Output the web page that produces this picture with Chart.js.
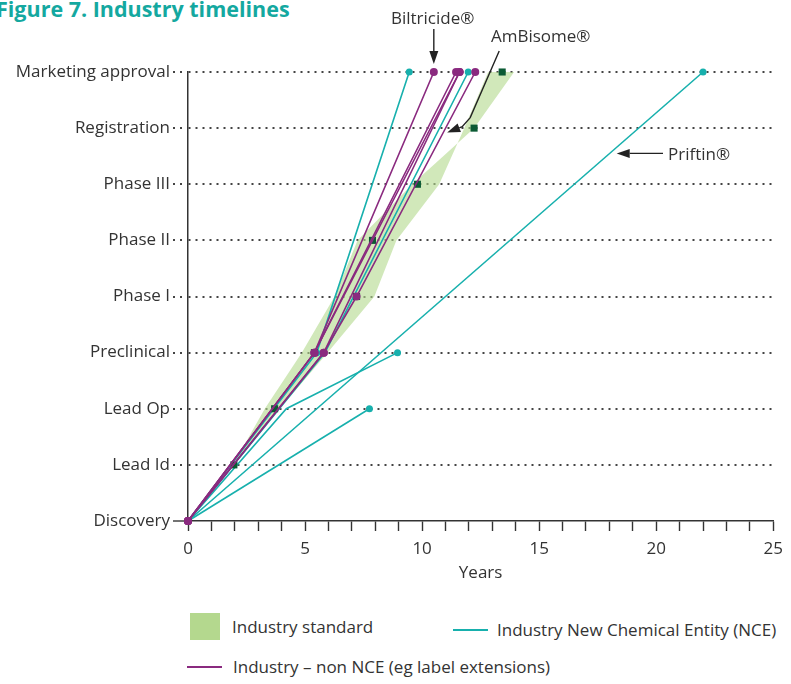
<!DOCTYPE html>
<html lang="en">
<head>
    <meta charset="UTF-8">
    <title>Figure 7. Industry timelines</title>
    <style>
        body {
            margin: 0;
            padding: 0;
            width: 791px;
            height: 684px;
            overflow: hidden;
            background: #ffffff;
            font-family: 'Open Sans', sans-serif;
            color: #333333;
            position: relative;
        }

        .title {
            position: absolute;
            left: -4px;
            top: -6px;
            font-size: 21.5px;
            font-weight: bold;
            color: #14a8a0;
            white-space: nowrap;
        }

        .note, .legend-text {
            position: absolute;
            font-size: 17px;
            line-height: 20px;
            white-space: nowrap;
        }

        #chartBox {
            position: absolute;
            left: 0;
            top: 0;
            width: 791px;
            height: 590px;
        }

        .swatch, .legend-line {
            position: absolute;
        }
    </style>
</head>
<body>
    <div class="title">Figure 7. Industry timelines</div>

    <div id="chartBox"><canvas id="timelineChart"></canvas></div>

    <div class="note" style="left:391px; top:8px;">Biltricide®</div>
    <div class="note" style="left:491px; top:26px;">AmBisome®</div>
    <div class="note" style="left:668px; top:144px;">Priftin®</div>

    <div class="swatch" style="left:190px; top:613px; width:30px; height:27px; background:#b4d88e;"></div>
    <div class="legend-text" style="left:232px; top:617px;">Industry standard</div>
    <div class="legend-line" style="left:453px; top:629px; width:35px; height:2px; background:#17b0ad;"></div>
    <div class="legend-text" style="left:497px; top:620px;">Industry New Chemical Entity (NCE)</div>
    <div class="legend-line" style="left:187px; top:666px; width:35px; height:2px; background:#8a2a7f;"></div>
    <div class="legend-text" style="left:233px; top:657px;">Industry – non NCE (eg label extensions)</div>

    <script src="https://cdn.jsdelivr.net/npm/chart.js"></script>
    <script>
        // stages on the y axis, bottom to top
        const stages = ['Discovery', 'Lead Id', 'Lead Op', 'Preclinical', 'Phase I', 'Phase II', 'Phase III', 'Registration', 'Marketing approval'];

        // industry standard band: [years, stage]
        const standardLow = [[1.92, 1], [3.28, 2], [4.86, 3], [6.26, 4], [7.24, 5], [9.58, 6], [12.22, 7], [13.93, 8]];
        const standardHigh = [[1.92, 1], [3.92, 2], [5.96, 3], [7.96, 4], [8.9, 5], [10.73, 6], [11.8, 7], [12.82, 8]];
        const standardMedian = [[1.96, 1], [3.7, 2], [5.4, 3], [7.2, 4], [7.88, 5], [9.8, 6], [12.22, 7], [13.42, 8]];

        // industry NCE timelines (teal)
        const nce1 = [[0, 0], [5.5, 3], [9.45, 8]];
        const nce2 = [[0, 0], [5.85, 3], [11.97, 8]];
        const nce3 = [[0, 0], [4.2, 2], [8.95, 3]];
        const nce4 = [[0, 0], [7.75, 2]];
        const priftin = [[0, 0], [22.0, 8]];

        // industry non NCE timelines (purple)
        const biltricide = [[0, 0], [5.4, 3], [10.5, 8]];
        const nonNce2 = [[0, 0], [5.4, 3], [11.45, 8]];
        const nonNce3 = [[0, 0], [5.4, 3], [11.6, 8]];
        const nonNce4 = [[0, 0], [5.8, 3], [11.6, 8]];
        const ambisome = [[0, 0], [5.8, 3], [7.2, 4], [12.27, 8]];

        const teal = '#17b0ad';
        const purple = '#8a2a7f';
        const bandColor = 'rgba(178, 216, 140, 0.6)';
        const darkGreen = '#0b5a34';

        function toXY(points) {
            return points.map(p => ({ x: p[0], y: p[1] }));
        }

        function lineSet(points, color, radii, order) {
            return {
                data: toXY(points),
                showLine: true,
                borderColor: color,
                backgroundColor: color,
                borderWidth: 1.6,
                pointRadius: radii,
                pointBorderWidth: 0,
                pointHoverRadius: radii,
                clip: false,
                order: order
            };
        }

        // polygon: up the low edge, back down the high edge
        const bandPolygon = standardLow.concat(standardHigh.slice().reverse());

        const datasets = [
            lineSet(biltricide, purple, [4, 4, 4], 0),
            lineSet(nonNce2, purple, [4, 4, 4], 0),
            lineSet(nonNce3, purple, [4, 4, 4], 0),
            lineSet(nonNce4, purple, [4, 4, 4], 0),
            lineSet(ambisome, purple, [4, 4, 4, 4], 0),
            {
                data: toXY(standardMedian),
                pointStyle: 'rect',
                pointRadius: 5,
                backgroundColor: darkGreen,
                borderColor: darkGreen,
                pointBorderWidth: 0,
                clip: false,
                order: 1
            },
            lineSet(nce1, teal, [3.5, 3.5, 3.5], 2),
            lineSet(nce2, teal, [3.5, 0, 3.5], 2),
            lineSet(nce3, teal, [3.5, 0, 3.5], 2),
            lineSet(nce4, teal, [3.5, 3.5], 2),
            lineSet(priftin, teal, [3.5, 3.5], 2),
            {
                data: toXY(bandPolygon),
                showLine: true,
                fill: 'shape',
                borderWidth: 0,
                borderColor: 'rgba(0,0,0,0)',
                backgroundColor: bandColor,
                pointRadius: 0,
                order: 10
            }
        ];

        function drawArrow(ctx, pts) {
            const n = pts.length;
            const tip = pts[n - 1], prev = pts[n - 2];
            const ang = Math.atan2(tip[1] - prev[1], tip[0] - prev[0]);
            const len = 13, half = 4.5;
            const bx = tip[0] - len * Math.cos(ang), by = tip[1] - len * Math.sin(ang);
            ctx.save();
            ctx.strokeStyle = '#222';
            ctx.fillStyle = '#222';
            ctx.lineWidth = 1.4;
            ctx.beginPath();
            ctx.moveTo(pts[0][0], pts[0][1]);
            for (let i = 1; i < n - 1; i++) ctx.lineTo(pts[i][0], pts[i][1]);
            ctx.lineTo(bx, by);
            ctx.stroke();
            ctx.beginPath();
            ctx.moveTo(tip[0], tip[1]);
            ctx.lineTo(bx - half * Math.sin(ang), by + half * Math.cos(ang));
            ctx.lineTo(bx + half * Math.sin(ang), by - half * Math.cos(ang));
            ctx.closePath();
            ctx.fill();
            ctx.restore();
        }

        const arrowPlugin = {
            id: 'arrows',
            afterDatasetsDraw(chart) {
                const ctx = chart.ctx;
                const xs = chart.scales.x, ys = chart.scales.y;
                // Biltricide: points down at its approval dot
                const bx = xs.getPixelForValue(biltricide[2][0]);
                const by = ys.getPixelForValue(8);
                drawArrow(ctx, [[bx, 29], [bx, by - 8]]);
                // AmBisome: points at its line near registration
                const yv = 6.92;
                const a0 = ambisome[2], a1 = ambisome[3];
                const ax = xs.getPixelForValue(a0[0] + (a1[0] - a0[0]) * (yv - a0[1]) / (a1[1] - a0[1])) + 4;
                const ay = ys.getPixelForValue(yv);
                drawArrow(ctx, [[ax + 52, 51], [ax + 23, ay - 15], [ax + 15, ay - 6], [ax, ay]]);
                // Priftin: points left at its line
                const pv = 6.55;
                const px = xs.getPixelForValue(priftin[1][0] * pv / priftin[1][1]) + 7;
                const py = ys.getPixelForValue(pv);
                drawArrow(ctx, [[663, py], [px, py]]);
            }
        };

        Chart.defaults.font.family = "'Open Sans', sans-serif";
        Chart.defaults.color = '#333333';

        new Chart(document.getElementById('timelineChart'), {
            type: 'scatter',
            data: { datasets: datasets },
            options: {
                responsive: true,
                maintainAspectRatio: false,
                animation: false,
                events: [],
                layout: { padding: { top: 72, right: 16, left: 0, bottom: 0 } },
                plugins: {
                    legend: { display: false },
                    tooltip: { enabled: false }
                },
                scales: {
                    x: {
                        type: 'linear',
                        min: 0,
                        max: 25,
                        afterFit: scale => { scale.height = 69; },
                        ticks: {
                            stepSize: 1,
                            autoSkip: false,
                            maxRotation: 0,
                            padding: 8,
                            font: { size: 17 },
                            color: '#333',
                            callback: v => (v % 5 === 0 ? v : '')
                        },
                        grid: {
                            drawOnChartArea: false,
                            drawTicks: true,
                            tickLength: 10,
                            tickColor: '#333',
                            tickWidth: 1.4
                        },
                        border: { color: '#333', width: 1.5 },
                        title: {
                            display: true,
                            text: 'Years',
                            font: { size: 17 },
                            color: '#333',
                            padding: { top: 0, bottom: 7 }
                        }
                    },
                    y: {
                        type: 'linear',
                        min: 0,
                        max: 8,
                        afterFit: scale => { scale.width = 188; },
                        ticks: {
                            stepSize: 1,
                            padding: 3,
                            font: { size: 17 },
                            color: '#333',
                            callback: v => stages[v]
                        },
                        grid: {
                            color: ctx => (ctx.index === 0 ? 'rgba(0,0,0,0)' : '#444'),
                            lineWidth: 2,
                            drawTicks: true,
                            tickLength: 15,
                            tickColor: '#444',
                            tickWidth: ctx => (ctx.index === 0 ? 1.5 : 2),
                            tickBorderDash: ctx => (ctx.index === 0 ? [] : [2, 5])
                        },
                        border: { color: '#333', width: 1.5, dash: [2, 5] }
                    }
                }
            },
            plugins: [arrowPlugin]
        });
    </script>
</body>
</html>
